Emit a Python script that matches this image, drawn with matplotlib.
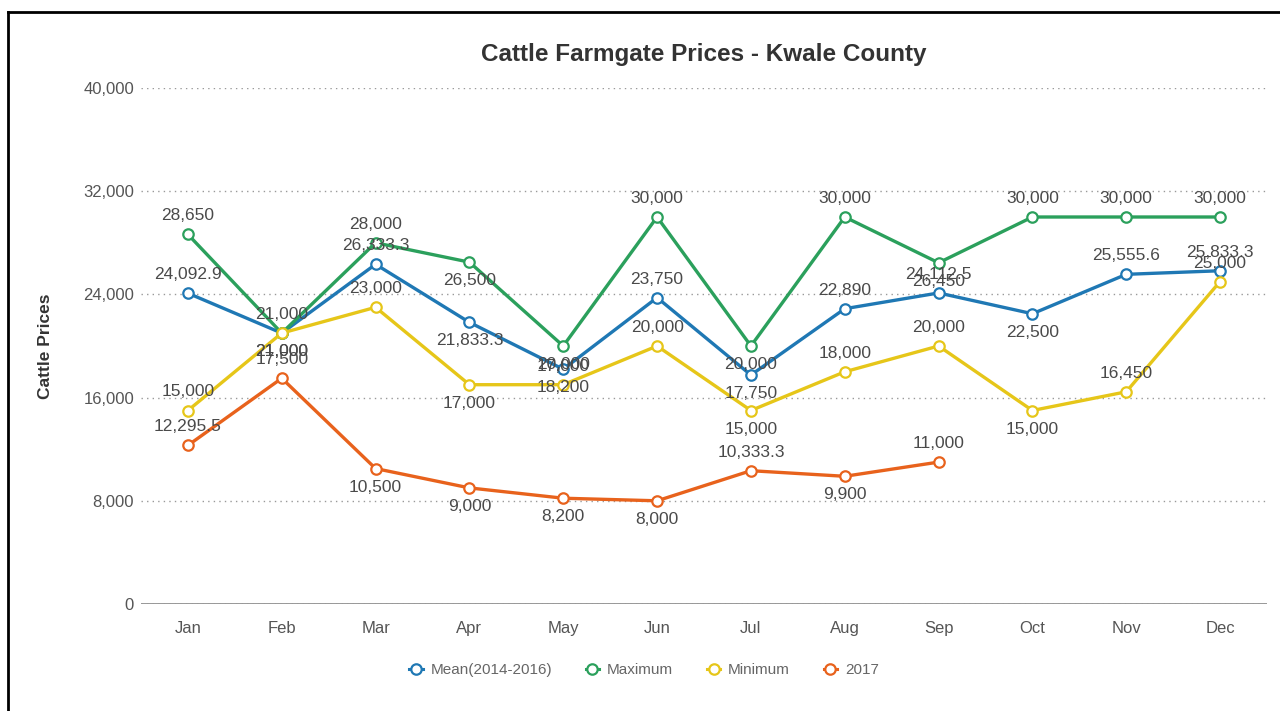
import numpy as np
import matplotlib.pyplot as plt
from matplotlib.lines import Line2D

plt.rcParams['font.family'] = ['Liberation Sans', 'DejaVu Sans']

months = ["Jan", "Feb", "Mar", "Apr", "May", "Jun", "Jul", "Aug", "Sep", "Oct", "Nov", "Dec"]

mean_prices = [24092.9, 21000, 26333.3, 21833.3, 18200, 23750, 17750, 22890, 24112.5, 22500, 25555.6, 25833.3]
max_prices = [28650, 21000, 28000, 26500, 20000, 30000, 20000, 30000, 26450, 30000, 30000, 30000]
min_prices = [15000, 21000, 23000, 17000, 17000, 20000, 15000, 18000, 20000, 15000, 16450, 25000]
prices_2017 = [12295.5, 17500, 10500, 9000, 8200, 8000, 10333.3, 9900, 11000, None, None, None]

series_names = ["Mean(2014-2016)", "Maximum", "Minimum", "2017"]
colors = ['#1f78b4', '#2ba05c', '#e6c619', '#e8621c']
# month indices where the value label sits under the point instead of over it
below = [[1, 3, 4, 6, 9], [3, 4, 6, 8], [1, 3, 6, 9], [2, 3, 4, 5, 7]]

def fmt(v):
    if v == int(v):
        return "{:,}".format(int(v))
    return "{:,.1f}".format(v)

fig = plt.figure(figsize=(12.8, 7.11), dpi=100)
ax = fig.add_axes([141 / 1280, 107 / 711, 1126 / 1280, 516 / 711])

x = np.arange(len(months))
all_series = [mean_prices, max_prices, min_prices, prices_2017]
for k in range(len(all_series)):
    vals = np.array([np.nan if v is None else v for v in all_series[k]], dtype=float)
    ax.plot(x, vals, color=colors[k], lw=2.4, marker='o', ms=7.5,
            markerfacecolor='white', markeredgecolor=colors[k], markeredgewidth=1.6,
            zorder=3 + k)
    for i in range(len(vals)):
        if np.isnan(vals[i]):
            continue
        if i in below[k]:
            dy, va = -11, 'top'
        else:
            dy, va = 11, 'bottom'
        ax.annotate(fmt(vals[i]), (x[i], vals[i]), xytext=(0, dy), textcoords='offset pixels',
                    ha='center', va=va, fontsize=12.5, color='#4a4a4a', zorder=10)

ax.set_xlim(-0.5, 11.5)
ax.set_ylim(0, 40000)
ax.set_yticks(np.arange(0, 40001, 8000))
ax.set_yticklabels(["{:,}".format(v) for v in range(0, 40001, 8000)])
ax.set_xticks(x)
ax.set_xticklabels(months)
ax.tick_params(axis='both', length=0, labelsize=12, colors='#555555')
ax.tick_params(axis='y', pad=5)
ax.tick_params(axis='x', pad=12)
for s in ax.spines.values():
    s.set_visible(False)
ax.grid(axis='y', linestyle=(0, (1, 3)), color='#999999', lw=1)
ax.axhline(0, color='#888888', lw=1.2, zorder=2)
ax.set_ylabel("Cattle Prices", fontsize=12.5, fontweight='bold', color='#333333', labelpad=22)

fig.text(704 / 1280, 1 - 55 / 711, "Cattle Farmgate Prices - Kwale County", ha='center', va='center',
         fontsize=17.5, fontweight='bold', color='#333333')

handles = [Line2D([0], [0], color=c, lw=2.2, marker='o', ms=7.5, markerfacecolor='white',
                  markeredgecolor=c, markeredgewidth=1.6) for c in colors]
leg = fig.legend(handles, series_names, loc='center', bbox_to_anchor=(0.503, 1 - 670 / 711), ncol=4,
                 frameon=False, fontsize=11, handlelength=0.9, columnspacing=2.2, handletextpad=0.5)
for t in leg.get_texts():
    t.set_color('#666666')

# outer frame (left and top edges)
fig.add_artist(Line2D([8 / 1280, 8 / 1280], [0, 1 - 12 / 711], color='black', lw=2))
fig.add_artist(Line2D([8 / 1280, 1], [1 - 12 / 711, 1 - 12 / 711], color='black', lw=2))

fig.savefig("out.png", dpi=100)
